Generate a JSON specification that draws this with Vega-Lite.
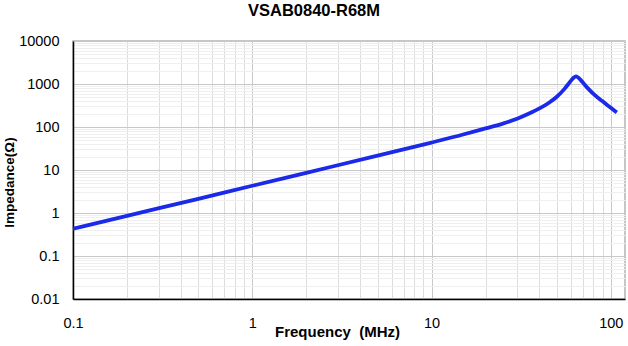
{
  "$schema": "https://vega.github.io/schema/vega-lite/v6.json",
  "width": 552,
  "height": 258,
  "autosize": "none",
  "padding": {"left": 73, "top": 41, "right": 3, "bottom": 47},
  "background": "white",
  "config": {
    "font": "Liberation Sans",
    "view": {"stroke": "#b4b4b4", "strokeWidth": 1.5}
  },
  "title": {
    "text": "VSAB0840-R68M",
    "fontSize": 16.5,
    "fontWeight": "bold",
    "font": "Liberation Sans",
    "color": "#000000",
    "anchor": "middle",
    "dx": -35,
    "offset": 14
  },
  "data": {
    "values": [
      {"f": 0.1, "z": 0.43},
      {"f": 0.2, "z": 0.86},
      {"f": 0.5, "z": 2.14},
      {"f": 1, "z": 4.3},
      {"f": 2, "z": 8.6},
      {"f": 5, "z": 21.5},
      {"f": 10, "z": 43.5},
      {"f": 15, "z": 67},
      {"f": 20, "z": 93},
      {"f": 25, "z": 120},
      {"f": 30, "z": 155},
      {"f": 35, "z": 205},
      {"f": 40, "z": 270},
      {"f": 45, "z": 362},
      {"f": 50, "z": 505},
      {"f": 55, "z": 760},
      {"f": 58, "z": 1000},
      {"f": 60, "z": 1200},
      {"f": 62, "z": 1400},
      {"f": 64, "z": 1500},
      {"f": 66, "z": 1400},
      {"f": 68, "z": 1230},
      {"f": 70, "z": 1070},
      {"f": 75, "z": 770},
      {"f": 80, "z": 590},
      {"f": 90, "z": 395},
      {"f": 100, "z": 280},
      {"f": 108, "z": 218}
    ]
  },
  "resolve": {"axis": {"x": "independent", "y": "independent"}},
  "layer": [
    {
      "mark": {"type": "line", "opacity": 0},
      "encoding": {
        "x": {
          "field": "f", "type": "quantitative",
          "scale": {"type": "log", "domain": [0.1, 120], "nice": false},
          "axis": {
            "orient": "bottom",
            "values": [0.2,0.3,0.4,0.5,0.6,0.7,0.8,0.9,2,3,4,5,6,7,8,9,20,30,40,50,60,70,80,90],
            "grid": true, "gridColor": "#dcdcdc", "gridWidth": 1,
            "labels": false, "ticks": false, "domain": false, "title": null
          }
        },
        "y": {
          "field": "z", "type": "quantitative",
          "scale": {"type": "log", "domain": [0.01, 10000], "nice": false},
          "axis": {
            "orient": "left",
            "values": [0.02,0.03,0.04,0.05,0.06,0.07,0.08,0.09,0.2,0.3,0.4,0.5,0.6,0.7,0.8,0.9,2,3,4,5,6,7,8,9,20,30,40,50,60,70,80,90,200,300,400,500,600,700,800,900,2000,3000,4000,5000,6000,7000,8000,9000],
            "grid": true, "gridColor": "#efefef", "gridWidth": 1,
            "labels": false, "ticks": false, "domain": false, "title": null
          }
        }
      }
    },
    {
      "mark": {"type": "line", "color": "#1a2ae8", "strokeWidth": 3.8, "interpolate": "monotone"},
      "encoding": {
        "x": {
          "field": "f", "type": "quantitative",
          "scale": {"type": "log", "domain": [0.1, 120], "nice": false},
          "axis": {
            "orient": "bottom",
            "values": [0.1, 1, 10, 100],
            "format": "~g",
            "grid": true, "gridColor": "#c8c8c8", "gridWidth": 1,
            "ticks": false, "tickSize": 0,
            "domain": true, "domainColor": "#000000", "domainWidth": 1.5,
            "labelFont": "Liberation Sans", "labelFontSize": 14.5, "labelColor": "#000000",
            "labelPadding": 17, "labelFlush": false,
            "title": "Frequency\u00a0\u00a0(MHz)",
            "titleFont": "Liberation Sans", "titleFontSize": 15, "titleFontWeight": "bold", "titleColor": "#000000",
            "titleX": 264, "titleY": 25, "titleBaseline": "top", "titleAnchor": "middle"
          }
        },
        "y": {
          "field": "z", "type": "quantitative",
          "scale": {"type": "log", "domain": [0.01, 10000], "nice": false},
          "axis": {
            "orient": "left",
            "values": [0.01, 0.1, 1, 10, 100, 1000, 10000],
            "format": "~g",
            "grid": true, "gridColor": "#c8c8c8", "gridWidth": 1,
            "ticks": false, "tickSize": 0,
            "domain": true, "domainColor": "#000000", "domainWidth": 1.5,
            "labelFont": "Liberation Sans", "labelFontSize": 14.5, "labelColor": "#000000",
            "labelPadding": 14, "labelFlush": false,
            "title": "Impedance(Ω)",
            "titleFont": "Liberation Sans", "titleFontSize": 13.5, "titleFontWeight": "bold", "titleColor": "#000000",
            "titlePadding": 2, "titleY": 141
          }
        }
      }
    }
  ]
}
